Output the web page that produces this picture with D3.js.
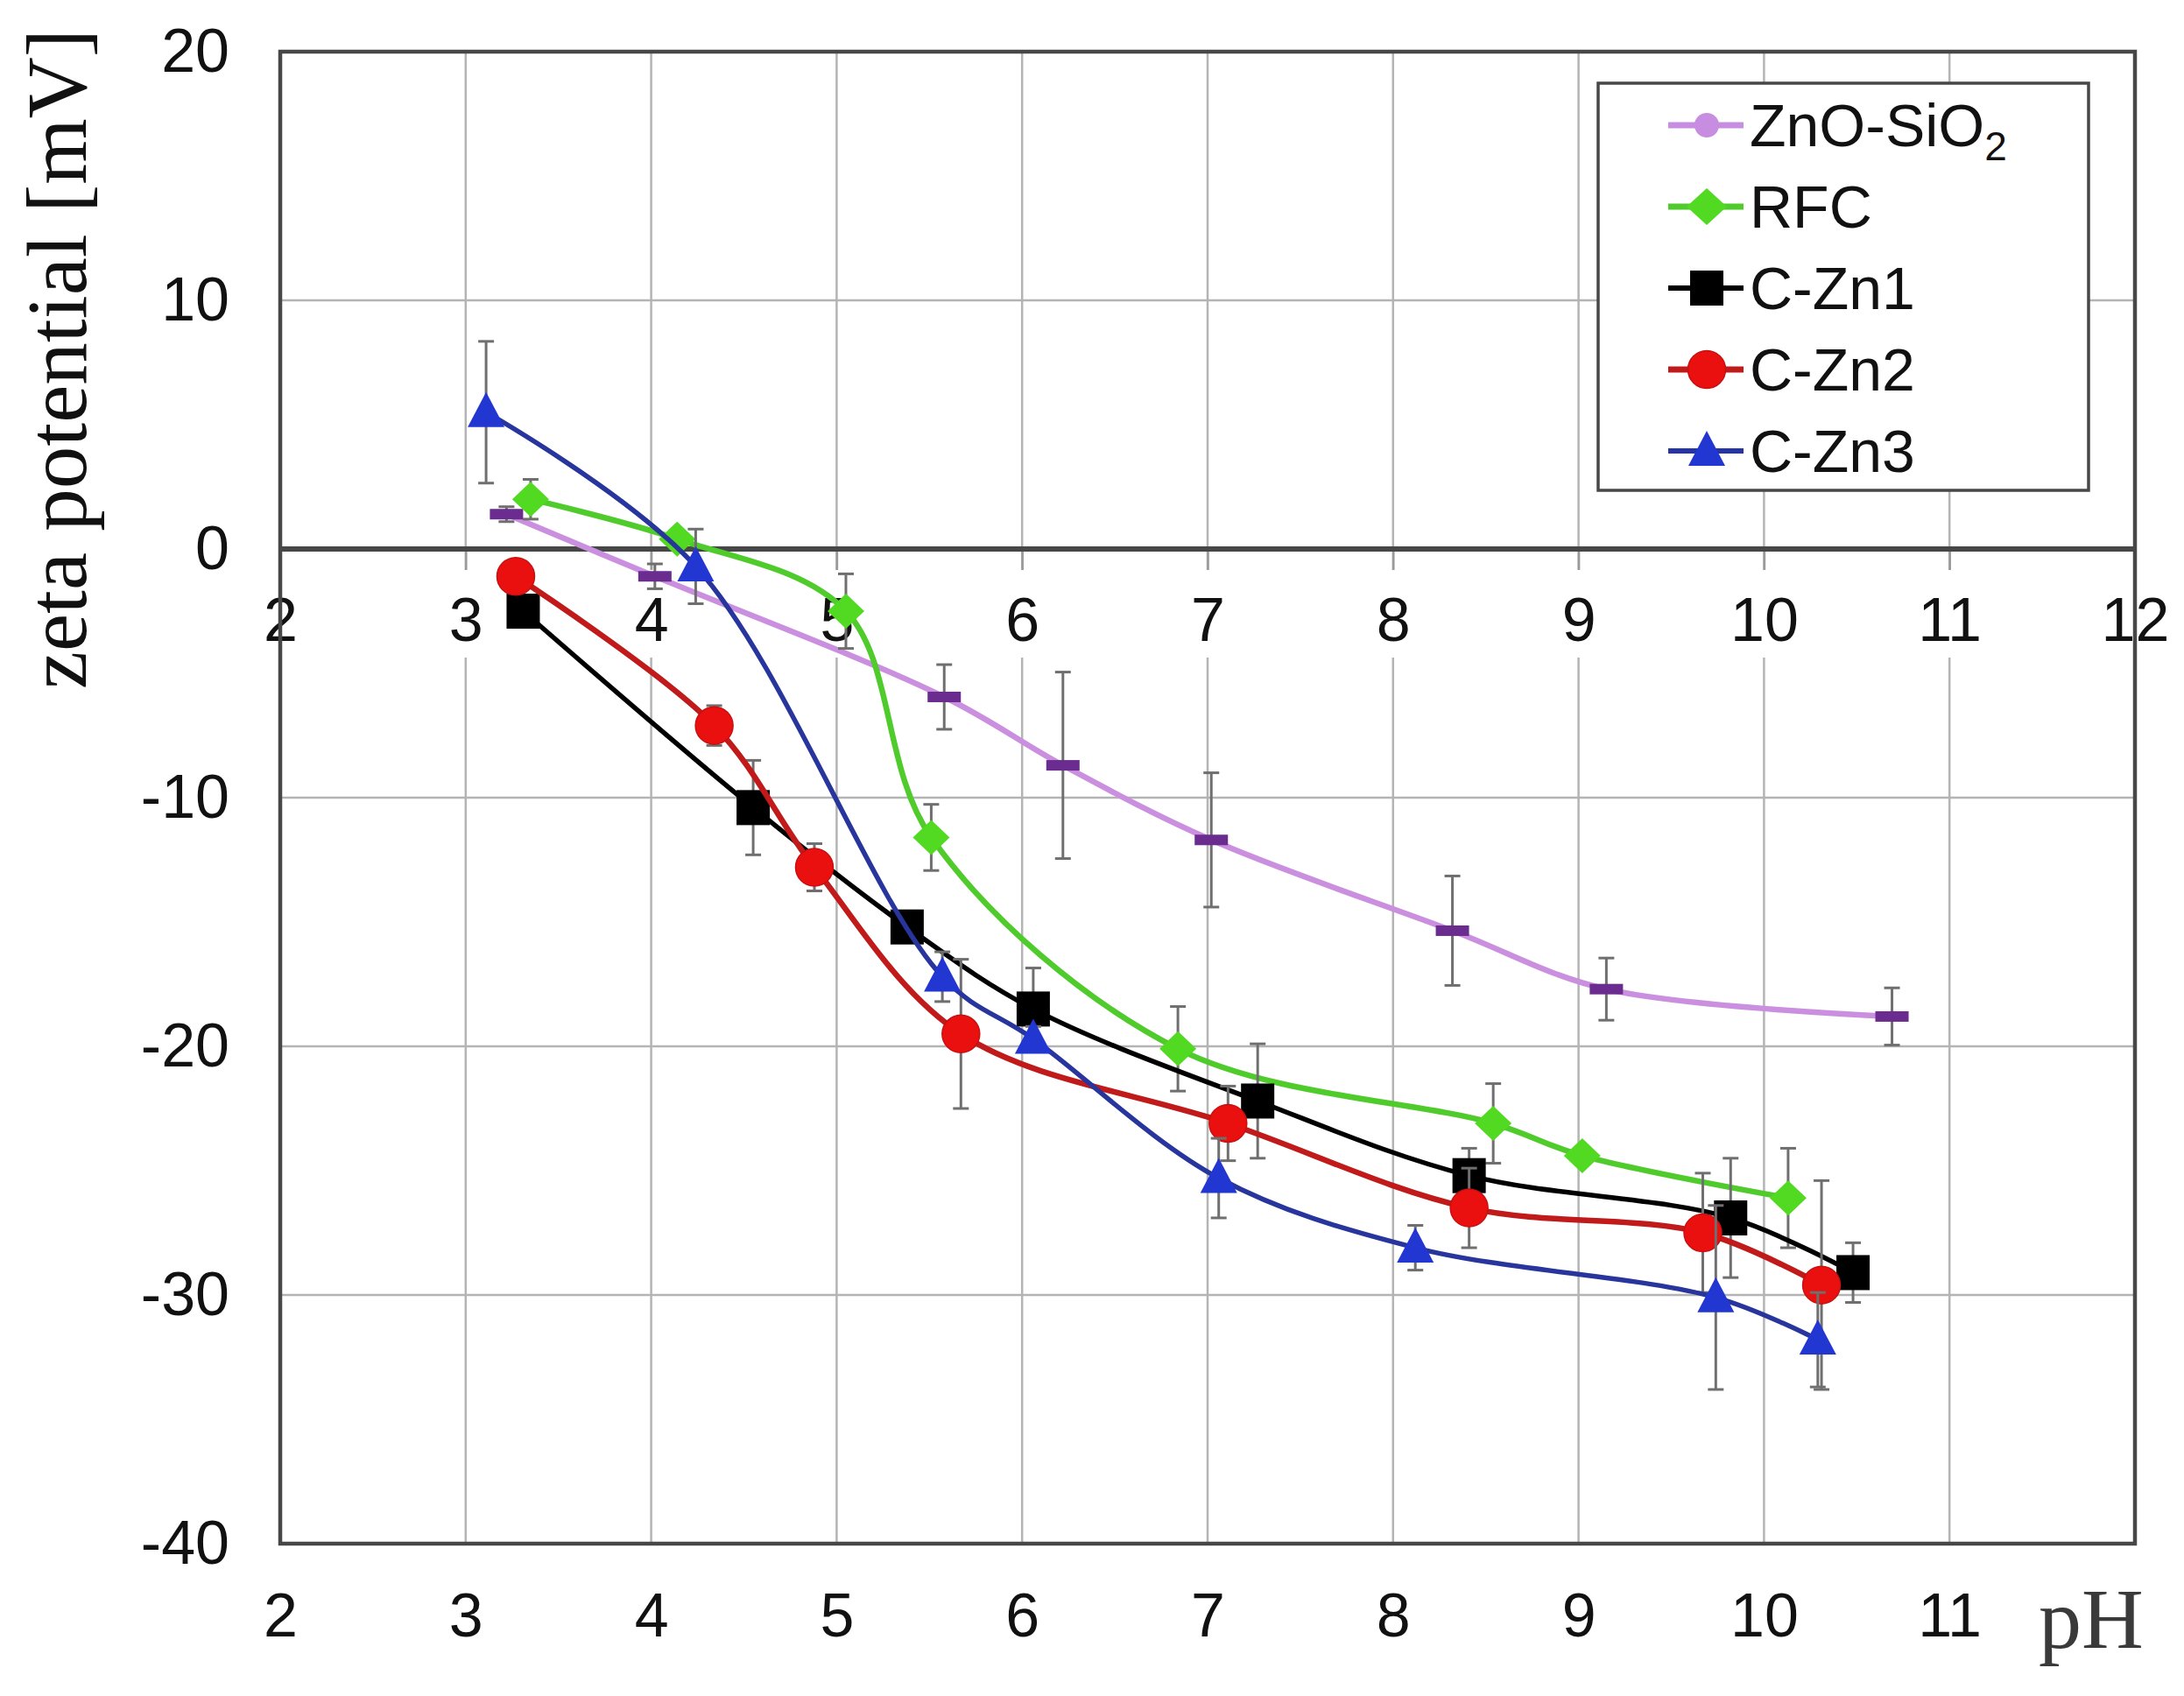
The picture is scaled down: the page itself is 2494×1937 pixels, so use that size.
<!DOCTYPE html>
<html><head><meta charset="utf-8">
<script src="https://cdnjs.cloudflare.com/ajax/libs/d3/7.8.5/d3.min.js"></script>
<style>html,body{margin:0;padding:0;background:#fff;}svg{display:block;}</style>
</head><body>
<svg id="chart" width="2494" height="1937"></svg>
<script>
// ---------- data ----------
const seriesNames = ["ZnO-SiO2", "RFC", "C-Zn1", "C-Zn2", "C-Zn3"];

const znoPH   = [3.22, 4.02, 5.58, 6.22, 7.02, 8.32, 9.15, 10.69];
const znoZeta = [1.4, -1.1, -5.95, -8.7, -11.7, -15.35, -17.7, -18.8];
const znoErr  = [0.3, 0.5, 1.3, 3.75, 2.7, 2.2, 1.25, 1.15];

const rfcPH   = [3.35, 4.14, 5.05, 5.51, 6.84, 8.54, 9.02, 10.13];
const rfcZeta = [2.0, 0.4, -2.5, -11.6, -20.1, -23.1, -24.4, -26.1];
const rfcErr  = [0.8, 0, 1.5, 1.33, 1.7, 1.6, 0, 2.0];

const zn1PH   = [3.31, 4.55, 5.38, 6.06, 7.27, 8.41, 9.82, 10.48];
const zn1Zeta = [-2.5, -10.4, -15.2, -18.5, -22.2, -25.2, -26.9, -29.1];
const zn1Err  = [0.3, 1.9, 0.5, 1.65, 2.3, 1.1, 2.4, 1.2];

const zn2PH   = [3.27, 4.34, 4.88, 5.67, 7.11, 8.41, 9.67, 10.31];
const zn2Zeta = [-1.1, -7.1, -12.8, -19.5, -23.1, -26.5, -27.5, -29.6];
const zn2Err  = [0.3, 0.8, 0.95, 3.0, 1.5, 1.6, 2.4, 4.2];

const zn3PH   = [3.11, 4.24, 5.57, 6.06, 7.06, 8.12, 9.74, 10.29];
const zn3Zeta = [5.5, -0.7, -17.2, -19.7, -25.3, -28.1, -30.1, -31.8];
const zn3Err  = [2.85, 1.5, 1.0, 0.5, 1.6, 0.9, 3.7, 1.9];

const xTickLabels = [2, 3, 4, 5, 6, 7, 8, 9, 10, 11, 12];
const xBottomLabels = [2, 3, 4, 5, 6, 7, 8, 9, 10, 11];
const yTickLabels = [20, 10, 0, -10, -20, -30, -40];
const yTitle = "zeta potential [mV]";
const xTitle = "pH";

// ---------- layout ----------
const L = 320, R = 2438, T = 59, B = 1763;
const svg = d3.select("#chart");
const x = d3.scaleLinear().domain([2, 12]).range([L, R]);
const y = d3.scaleLinear().domain([-40, 20]).range([B, T]);
const sans = "'Liberation Sans', Arial, sans-serif";
const serif = "'Liberation Serif', 'Times New Roman', serif";
const fmt = d => String(d);

svg.append("rect").attr("width", 2494).attr("height", 1937).attr("fill", "#fff");

// gridlines
const grid = svg.append("g");
grid.selectAll("line.vx").data(xTickLabels.filter(d => d > 2 && d < 12)).enter().append("line")
  .attr("x1", d => x(d)).attr("x2", d => x(d)).attr("y1", T).attr("y2", B)
  .attr("stroke", "#b4b4b4").attr("stroke-width", 2.5);
grid.selectAll("line.hy").data(yTickLabels.filter(d => d !== 0 && d > -40 && d < 20)).enter().append("line")
  .attr("x1", L).attr("x2", R).attr("y1", d => y(d)).attr("y2", d => y(d))
  .attr("stroke", "#b4b4b4").attr("stroke-width", 2.5);

// x axis at zero with labels (white band masking gridlines)
const zeroAxis = svg.append("g").attr("transform", `translate(0,${y(0)})`)
  .call(d3.axisBottom(x).tickValues(xTickLabels).tickSize(24).tickPadding(31).tickFormat(fmt));
zeroAxis.select(".domain").remove();
zeroAxis.selectAll(".tick line").attr("stroke", "#9a9a9a").attr("stroke-width", 2.5);
zeroAxis.selectAll(".tick").insert("rect", "text")
  .attr("x", -45).attr("width", 90).attr("y", 24).attr("height", 100).attr("fill", "#fff");
zeroAxis.selectAll(".tick text").attr("font-family", sans).attr("font-size", 70).attr("fill", "#111");

// bottom labels
const bottomAxis = svg.append("g").attr("transform", `translate(0,${B})`)
  .call(d3.axisBottom(x).tickValues(xBottomLabels).tickSize(0).tickPadding(56).tickFormat(fmt));
bottomAxis.select(".domain").remove();
bottomAxis.selectAll(".tick text").attr("font-family", sans).attr("font-size", 70).attr("fill", "#111");

// y labels
const leftAxis = svg.append("g").attr("transform", `translate(${L},0)`)
  .call(d3.axisLeft(y).tickValues(yTickLabels).tickSize(0).tickPadding(58).tickFormat(fmt));
leftAxis.select(".domain").remove();
leftAxis.selectAll(".tick text").attr("font-family", sans).attr("font-size", 70).attr("fill", "#111");

// frame and zero line
svg.append("rect").attr("x", L).attr("y", T).attr("width", R - L).attr("height", B - T)
  .attr("fill", "none").attr("stroke", "#474747").attr("stroke-width", 4.5);
svg.append("line").attr("x1", L).attr("x2", R).attr("y1", y(0)).attr("y2", y(0))
  .attr("stroke", "#474747").attr("stroke-width", 6);

// titles
svg.append("text").attr("transform", "translate(98,410) rotate(-90)")
  .attr("text-anchor", "middle").attr("font-family", serif).attr("font-size", 97).attr("fill", "#111")
  .text(yTitle);
svg.append("text").attr("x", 2328).attr("y", 1882)
  .attr("font-family", serif).attr("font-size", 98).attr("fill", "#3a3a3a").text(xTitle);

// ---------- series ----------
const series = [
  {name: seriesNames[0], ph: znoPH, z: znoZeta, e: znoErr, line: "#cb8fe0", fill: "#6b2c8f", mark: "dash", lw: 6.5},
  {name: seriesNames[1], ph: rfcPH, z: rfcZeta, e: rfcErr, line: "#4fcb2c", fill: "#52da22", mark: "diamond", lw: 6.5},
  {name: seriesNames[2], ph: zn1PH, z: zn1Zeta, e: zn1Err, line: "#000000", fill: "#000000", mark: "square", lw: 5.5},
  {name: seriesNames[3], ph: zn2PH, z: zn2Zeta, e: zn2Err, line: "#c01a1a", fill: "#ea1010", mark: "circle", lw: 6.5},
  {name: seriesNames[4], ph: zn3PH, z: zn3Zeta, e: zn3Err, line: "#27359c", fill: "#2236d2", mark: "triangle", lw: 5.5}
];

const lineGen = d3.line().x(d => x(d[0])).y(d => y(d[1])).curve(d3.curveCatmullRom.alpha(0.5));

function drawMarker(g, type, cx, cy, fill, legend) {
  if (type === "dash") {
    if (legend) {
      g.append("circle").attr("cx", cx).attr("cy", cy).attr("r", 14).attr("fill", "#c68de0");
    } else {
      g.append("rect").attr("x", cx - 19).attr("y", cy - 6).attr("width", 38).attr("height", 12).attr("fill", fill);
    }
  } else if (type === "diamond") {
    const w = legend ? 23 : 21, h = legend ? 21 : 20;
    g.append("path").attr("d", `M${cx},${cy - h}L${cx + w},${cy}L${cx},${cy + h}L${cx - w},${cy}Z`).attr("fill", fill);
  } else if (type === "square") {
    g.append("rect").attr("x", cx - 19).attr("y", cy - 20).attr("width", 38).attr("height", 40).attr("fill", fill);
  } else if (type === "circle") {
    g.append("circle").attr("cx", cx).attr("cy", cy).attr("r", 21.5).attr("fill", fill).attr("stroke", "#c81010").attr("stroke-width", 1.5);
  } else if (type === "triangle") {
    g.append("path").attr("d", `M${cx},${cy - 23}L${cx + 21},${cy + 17}L${cx - 21},${cy + 17}Z`).attr("fill", fill);
  }
}

series.forEach(s => {
  const g = svg.append("g");
  const pts = s.ph.map((p, i) => [p, s.z[i], s.e[i]]);
  // error bars
  const eb = g.append("g").attr("stroke", "#6f6f6f").attr("stroke-width", 3);
  pts.filter(d => d[2] > 0).forEach(d => {
    const px = x(d[0]), y1 = y(d[1] + d[2]), y2 = y(d[1] - d[2]);
    eb.append("line").attr("x1", px).attr("x2", px).attr("y1", y1).attr("y2", y2);
    eb.append("line").attr("x1", px - 9).attr("x2", px + 9).attr("y1", y1).attr("y2", y1);
    eb.append("line").attr("x1", px - 9).attr("x2", px + 9).attr("y1", y2).attr("y2", y2);
  });
  g.append("path").datum(pts).attr("d", lineGen).attr("fill", "none")
    .attr("stroke", s.line).attr("stroke-width", s.lw).attr("stroke-linejoin", "round");
  pts.forEach(d => drawMarker(g, s.mark, x(d[0]), y(d[1]), s.fill, false));
});

// ---------- legend ----------
const lg = svg.append("g");
lg.append("rect").attr("x", 1825).attr("y", 95).attr("width", 560).attr("height", 465)
  .attr("fill", "#fff").attr("stroke", "#474747").attr("stroke-width", 3.5);
const rowY = [143, 236, 329, 422, 515];
series.forEach((s, i) => {
  const cy = rowY[i];
  lg.append("line").attr("x1", 1905).attr("x2", 1991).attr("y1", cy).attr("y2", cy)
    .attr("stroke", i === 0 ? "#c68de0" : s.line).attr("stroke-width", s.lw + 0.5);
  drawMarker(lg, s.mark, 1949, cy, s.fill, true);
  const t = lg.append("text").attr("x", 1998).attr("y", cy + 24)
    .attr("font-family", sans).attr("font-size", 68).attr("fill", "#111");
  if (s.name === "ZnO-SiO2") {
    t.append("tspan").text("ZnO-SiO");
    t.append("tspan").attr("font-size", 46).attr("dy", 16).text("2");
  } else {
    t.text(s.name);
  }
});
</script>
</body></html>
